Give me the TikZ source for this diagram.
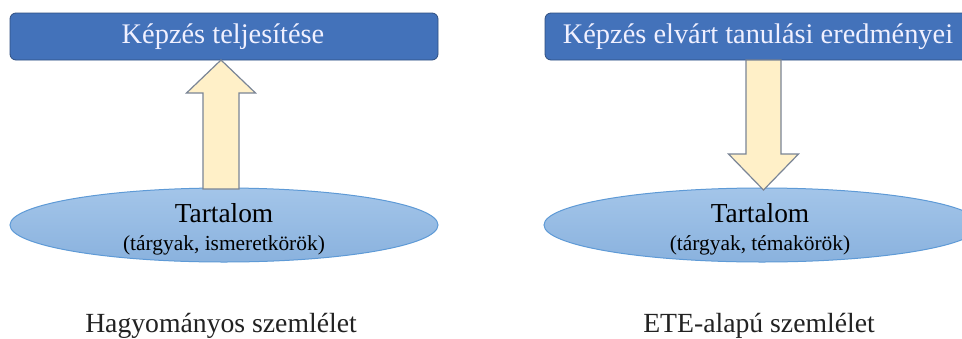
\documentclass[tikz,border=0pt]{standalone}
\usepackage{fontspec}
\setmainfont{Liberation Serif}
\usetikzlibrary{shapes.geometric,calc}
\definecolor{boxfill}{HTML}{4372BA}
\definecolor{boxline}{HTML}{2F4F80}
\definecolor{arrowfill}{HTML}{FFF0C8}
\definecolor{arrowline}{HTML}{7A8596}
\definecolor{elltop}{HTML}{A3C5E9}
\definecolor{ellbot}{HTML}{8AB2DE}
\definecolor{ellline}{HTML}{5E9AD6}
\definecolor{labeltext}{HTML}{222222}
\tikzset{
  goalbox/.style={draw=boxline, fill=boxfill, line width=0.8bp, rounded corners=6bp},
  goaltext/.style={text=white!94!blue, font=\fontsize{28.5}{31}\selectfont, inner sep=0pt},
  contentell/.style={ellipse, draw=ellline, line width=1bp, top color=elltop, bottom color=ellbot, inner sep=0pt},
  contenttitle/.style={font=\fontsize{27.5}{30}\selectfont, text=black, inner sep=0pt, anchor=base},
  contentsub/.style={font=\fontsize{21.5}{24}\selectfont, text=black, inner sep=0pt, anchor=base},
  blockarrow/.style={draw=arrowline, fill=arrowfill, line width=1.2bp, line join=miter},
  caption/.style={font=\fontsize{27.8}{30}\selectfont, text=labeltext, inner sep=0pt, anchor=base}
}
\begin{document}
\begin{tikzpicture}[x=1bp, y=-1bp]
  \clip (0,0) rectangle (962,338);
  \fill[white] (0,0) rectangle (962,338);

  % traditional approach (left)
  \draw[goalbox] (10,13) rectangle (438,60);
  \node[goaltext] (goalL) at (223,37) {Képzés teljesítése};
  \node[contentell, minimum width=428bp, minimum height=74bp] (ellL) at (224,225) {};
  \node[contenttitle] (titleL) at (224,222) {Tartalom};
  \node[contentsub] (subL) at (224,250) {(tárgyak, ismeretkörök)};

  \coordinate (tipL) at (221,60);
  \coordinate (footL) at (221,189);
  \draw[blockarrow] (tipL) -- ($(tipL)+(34.5,33)$) -- ($(tipL)+(18,33)$)
    -- ($(footL)+(18,0)$) -- ($(footL)+(-18,0)$) -- ($(tipL)+(-18,33)$)
    -- ($(tipL)+(-34.5,33)$) -- cycle;

  % outcome-based approach (right)
  \draw[goalbox] (545,13) rectangle (980,60);
  \node[goaltext] (goalR) at (758,37) {Képzés elvárt tanulási eredményei};
  \node[contentell, minimum width=436bp, minimum height=74bp] (ellR) at (762,225) {};
  \node[contenttitle] (titleR) at (760,222) {Tartalom};
  \node[contentsub] (subR) at (760,250) {(tárgyak, témakörök)};

  \coordinate (topR) at (763.5,60);
  \coordinate (tipR) at (763.5,190);
  \draw[blockarrow] (tipR) -- ($(tipR)+(35,-36)$) -- ($(tipR)+(17.5,-36)$)
    -- ($(topR)+(17.5,0)$) -- ($(topR)+(-17.5,0)$) -- ($(tipR)+(-17.5,-36)$)
    -- ($(tipR)+(-35,-36)$) -- cycle;

  % captions
  \node[caption] (capL) at (221,332) {Hagyományos szemlélet};
  \node[caption] (capR) at (759,332) {ETE-alapú szemlélet};
\end{tikzpicture}
\end{document}
